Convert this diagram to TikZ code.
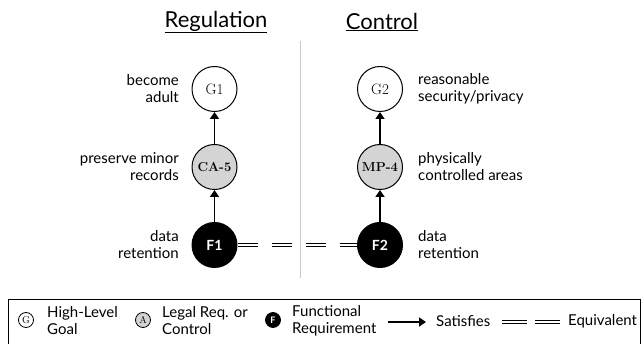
\documentclass[tikz,border=0pt]{standalone}
\usepackage{fontspec}
\newfontfamily\lab{Lato}
\usetikzlibrary{arrows.meta}
\definecolor{nodegray}{HTML}{D4D4D4}
\definecolor{divider}{HTML}{C8C8C8}
\begin{document}
\begin{tikzpicture}[x=1pt,y=-1pt,
  goal/.style={circle,draw,line width=1pt,minimum size=45pt,inner sep=0pt,fill=white,font=\fontsize{15}{15}\selectfont},
  legal/.style={goal,fill=nodegray,font=\bfseries\fontsize{13}{13}\selectfont},
  func/.style={goal,fill=black,text=white,font=\lab\bfseries\fontsize{14}{14}\selectfont},
  lgoal/.style={circle,draw,line width=0.8pt,minimum size=15pt,inner sep=0pt,fill=white,font=\fontsize{10}{10}\selectfont},
  llegal/.style={lgoal,fill=nodegray},
  lfunc/.style={lgoal,fill=black,text=white,font=\lab\bfseries\fontsize{9}{9}\selectfont},
  lblr/.style={font=\lab\fontsize{15}{17}\selectfont,align=right,inner sep=0pt,anchor=east},
  lbll/.style={font=\lab\fontsize{15}{17}\selectfont,align=left,inner sep=0pt,anchor=west},
  title/.style={font=\lab\fontsize{22}{22}\selectfont,inner sep=0pt},
  sat/.style={line width=1.8pt,-{Triangle[length=7pt,width=9pt]}},
  eqline/.style={double,double distance=2pt,line width=1.1pt},
  equiv/.style={eqline,dash pattern=on 20pt off 14pt}]
\path[use as bounding box] (0,0) rectangle (642,344);
% titles
\node[title] (treg) at (216,22) {\underline{Regulation}};
\node[title] (tcon) at (382,22) {\underline{Control}};
% divider
\coordinate (dtop) at (300,41);
\coordinate (dbot) at (300,278);
\draw[divider,line width=1pt] (dtop) -- (dbot);
% nodes
\node[goal] (G1) at (214.5,89) {G1};
\node[legal] (CA5) at (214.5,167) {CA-5};
\node[func] (F1) at (214.5,245) {F1};
\node[goal] (G2) at (380,89) {G2};
\node[legal] (MP4) at (380,167) {MP-4};
\node[func] (F2) at (380,245) {F2};
% labels
\node[lblr] (l1) at (179,89) {become\\adult};
\node[lblr] (l2) at (179,167) {preserve minor\\records};
\node[lblr] (l3) at (179,245) {data\\retention};
\node[lbll] (r1) at (418,89) {reasonable\\security/privacy};
\node[lbll] (r2) at (418,167) {physically\\controlled areas};
\node[lbll] (r3) at (418,245) {data\\retention};
% connectors
\draw[sat] (CA5) -- (G1);
\draw[sat] (F1) -- (CA5);
\draw[sat] (MP4) -- (G2);
\draw[sat] (F2) -- (MP4);
\draw[equiv] (F1) -- (F2);
% legend
\coordinate (bx1) at (8,300);
\coordinate (bx2) at (640,360);
\draw[line width=1pt] (bx1) rectangle (bx2);
\node[lgoal] (LG) at (26,320) {G};
\node[lbll] (LGt) at (47,321) {High-Level\\Goal};
\node[llegal] (LA) at (143,320) {A};
\node[lbll] (LAt) at (162,321) {Legal Req. or\\Control};
\node[lfunc] (LF) at (273,320) {F};
\node[lbll] (LFt) at (292,321) {Functional\\Requirement};
\coordinate (la1) at (388,322);
\coordinate (la2) at (426,322);
\draw[sat] (la1) -- (la2);
\node[lbll] (LS) at (436,321) {Satisfies};
\coordinate (le1) at (502,322);
\coordinate (le2) at (527,322);
\coordinate (le3) at (535,322);
\coordinate (le4) at (560,322);
\draw[eqline] (le1) -- (le2);
\draw[eqline] (le3) -- (le4);
\node[lbll] (LE) at (568,321) {Equivalent};
\end{tikzpicture}
\end{document}
